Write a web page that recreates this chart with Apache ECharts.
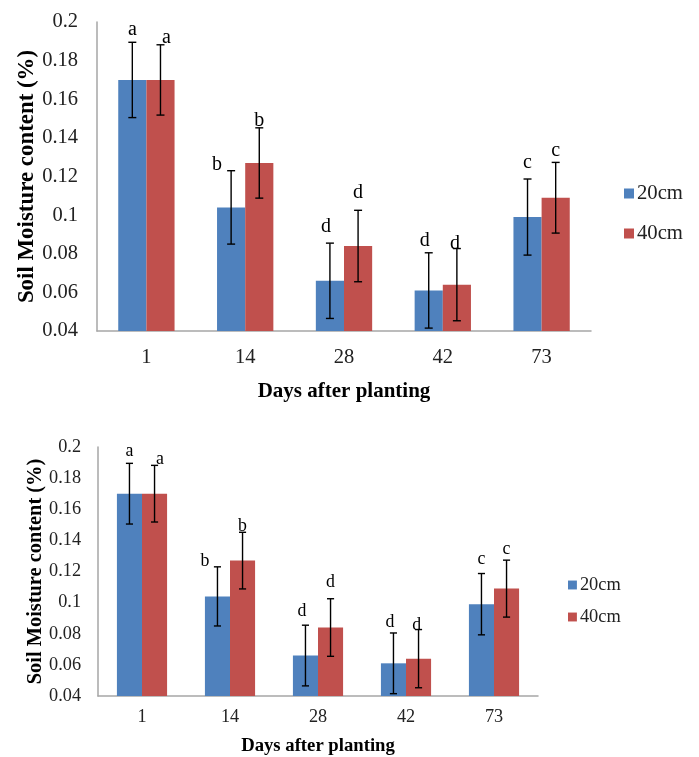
<!DOCTYPE html>
<html>
<head>
<meta charset="utf-8">
<script src="https://cdn.jsdelivr.net/npm/echarts@6/dist/echarts.min.js"></script>
<style>
  html, body { margin: 0; padding: 0; background: #fff; }
  #chart { width: 699px; height: 757px; }
</style>
</head>
<body>
<div id="chart"></div>
<script>
// Soil moisture at two depths over days after planting (mean ± error)
const days = ['1', '14', '28', '42', '73'];
const moisture20 = [0.170, 0.104, 0.066, 0.061, 0.099];
const moisture40 = [0.170, 0.127, 0.084, 0.064, 0.109];
const error20 = [0.0195, 0.0190, 0.0195, 0.0195, 0.0197];
const error40 = [0.0182, 0.0182, 0.0185, 0.0187, 0.0183];
const letters20 = ['a', 'b', 'd', 'd', 'c'];
const letters40 = ['a', 'b', 'd', 'd', 'c'];
const yMin = 0.04, yMax = 0.2, yStep = 0.02;
const depthNames = ['20cm', '40cm'];

const BLUE = '#4f81bd';
const RED = '#c0504d';
const FONT = '"Liberation Serif", "Times New Roman", serif';
const GAP = 0.43; // category gap fraction

// nudges for the significance letters (pixels at full scale)
const letterNudge = [
  [[0, -13], [-14, -6], [-4, -16], [-4, -12], [0, -16]],
  [[6, -7], [0, -7], [0, -18], [-2, -5], [0, -12]]
];

// two copies of the same chart: full size and a smaller one below
const panels = [
  { s: 1.0, grid: { left: 97, top: 22, width: 494, height: 309 },
    yNameGap: 58, xNameGap: 50, xLabelMargin: 16, yLabelMargin: 19,
    legend: { left: 624, top: 183, itemGap: 19 } },
  { s: 0.89, grid: { left: 98, top: 447, width: 440, height: 251 },
    yNameGap: 52, xNameGap: 41, xLabelMargin: 12, yLabelMargin: 17,
    legend: { left: 568, top: 576, itemGap: 14 } }
];

function errorSeries(values, errors, letters, side, name, gi, p) {
  return {
    type: 'custom',
    name: name,
    xAxisIndex: gi, yAxisIndex: gi,
    z: 5,
    silent: true,
    legendHoverLink: false,
    data: values.map((v, i) => [i, v - errors[i], v + errors[i]]),
    renderItem: function (params, api) {
      const i = api.value(0);
      const band = api.size([1, 0])[0];
      const bw = band * (1 - GAP) / 2;
      const cx = api.coord([i, yMin])[0] + side * bw / 2;
      const yHi = api.coord([i, api.value(2)])[1];
      const yLo = api.coord([i, api.value(1)])[1];
      const cap = 4 * p.s;
      const st = { stroke: '#000', lineWidth: 1.4 };
      const nudge = letterNudge[side < 0 ? 0 : 1][params.dataIndex];
      return {
        type: 'group',
        children: [
          { type: 'line', shape: { x1: cx, y1: yHi, x2: cx, y2: yLo }, style: st },
          { type: 'line', shape: { x1: cx - cap, y1: yHi, x2: cx + cap, y2: yHi }, style: st },
          { type: 'line', shape: { x1: cx - cap, y1: yLo, x2: cx + cap, y2: yLo }, style: st },
          { type: 'text', x: cx + nudge[0] * p.s, y: yHi + nudge[1] * p.s,
            style: { text: letters[params.dataIndex], fill: '#000',
                     font: (20 * p.s).toFixed(1) + 'px ' + FONT,
                     align: 'center', verticalAlign: 'middle' } }
        ]
      };
    }
  };
}

const option = {
  animation: false,
  backgroundColor: '#fff',
  grid: [], xAxis: [], yAxis: [], series: [], legend: []
};

panels.forEach((p, gi) => {
  const fs = 20.5 * p.s;
  option.grid.push(p.grid);
  option.xAxis.push({
    type: 'category', gridIndex: gi, data: days,
    name: 'Days after planting', nameLocation: 'middle', nameGap: p.xNameGap,
    nameMoveOverlap: false,
    nameTextStyle: { fontFamily: FONT, fontWeight: 'bold', fontSize: 21 * p.s, color: '#000' },
    axisLine: { lineStyle: { color: '#a6a6a6', width: 1.5 } },
    axisTick: { show: false },
    axisLabel: { fontFamily: FONT, fontSize: fs, color: '#222', margin: p.xLabelMargin },
    splitLine: { show: false }
  });
  option.yAxis.push({
    type: 'value', gridIndex: gi, min: yMin, max: yMax, interval: yStep,
    name: 'Soil Moisture content (%)', nameLocation: 'middle', nameGap: p.yNameGap,
    nameRotate: 90, nameMoveOverlap: false,
    nameTextStyle: { fontFamily: FONT, fontWeight: 'bold', fontSize: 22.9 * p.s, color: '#000' },
    axisLine: { show: true, lineStyle: { color: '#a6a6a6', width: 1.5 } },
    axisTick: { show: false },
    axisLabel: { fontFamily: FONT, fontSize: fs, color: '#222', margin: p.yLabelMargin,
                 formatter: v => String(+v.toFixed(2)) },
    splitLine: { show: false }
  });
  option.legend.push({
    orient: 'vertical', left: p.legend.left, top: p.legend.top,
    itemGap: p.legend.itemGap, itemWidth: 10 * p.s, itemHeight: 10 * p.s,
    icon: 'rect', padding: 0,
    textStyle: { fontFamily: FONT, fontSize: 20.7 * p.s, color: '#222', padding: [0, 0, 0, -2] },
    data: depthNames
  });
  option.series.push(
    { type: 'bar', name: depthNames[0], xAxisIndex: gi, yAxisIndex: gi,
      data: moisture20, barGap: '0%', barCategoryGap: (GAP * 100) + '%',
      itemStyle: { color: BLUE } },
    { type: 'bar', name: depthNames[1], xAxisIndex: gi, yAxisIndex: gi,
      data: moisture40, barGap: '0%', barCategoryGap: (GAP * 100) + '%',
      itemStyle: { color: RED } },
    errorSeries(moisture20, error20, letters20, -1, depthNames[0], gi, p),
    errorSeries(moisture40, error40, letters40, 1, depthNames[1], gi, p)
  );
});

const chart = echarts.init(document.getElementById('chart'), null, { renderer: 'canvas' });
chart.setOption(option);
</script>
</body>
</html>
